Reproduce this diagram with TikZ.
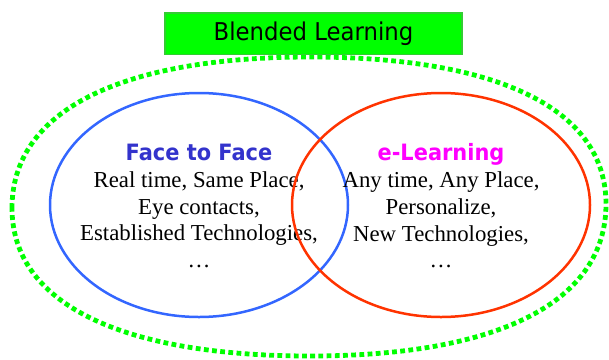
\documentclass[tikz,border=0pt]{standalone}
\usepackage{fontspec}
\setmainfont{Liberation Serif}
\newfontfamily\tahoma[FakeStretch=0.93]{DejaVu Sans}

\definecolor{dotgreen}{RGB}{0,255,0}
\definecolor{boxgreen}{RGB}{0,255,0}
\definecolor{boxedge}{RGB}{51,204,51}
\definecolor{ringblue}{RGB}{51,102,255}
\definecolor{ringred}{RGB}{255,51,0}
\definecolor{ftfblue}{RGB}{51,51,204}
\definecolor{elmagenta}{RGB}{255,0,255}

\tikzset{
  outline/.style={draw=dotgreen, line width=4.8pt, dash pattern=on 4.8pt off 3.4pt},
  titlebox/.style={draw=boxedge, fill=boxgreen, line width=1.5pt,
    minimum width=297pt, minimum height=41.5pt, inner sep=0pt,
    font=\tahoma\fontsize{24.5}{24.5}\selectfont},
  ring/.style={line width=2.5pt},
  body/.style={align=center, inner sep=0pt, font=\fontsize{22.8}{26.8}\selectfont},
  head/.style={font=\tahoma\bfseries\fontsize{22.5}{26.8}\selectfont}
}

\begin{document}
\begin{tikzpicture}[x=1pt,y=-1pt]
  \useasboundingbox (0,0) rectangle (609,359);

  % dotted outline round both rings
  \coordinate (L) at (12,208);
  \coordinate (T) at (310,57);
  \coordinate (R) at (606,204);
  \coordinate (B) at (310,356);
  \draw[outline] (L) .. controls (12,111.4) and (119.3,57) .. (T)
    .. controls (500.1,57) and (606,109.9) .. (R)
    .. controls (606,301.3) and (500.1,356) .. (B)
    .. controls (119.3,356) and (12,302.7) .. (L) -- cycle;

  \node[titlebox] (blended) at (313.5,33.5) {Blended Learning};

  % face to face
  \draw[ring, ringblue] (199,205) ellipse (149 and 112);
  \node[body] (f2f) at (199,206)
    {{\color{ftfblue}\tahoma\bfseries\fontsize{22.5}{26.8}\selectfont Face to Face}\\
     Real time, Same Place,\\ Eye contacts,\\ Established Technologies,\\ …};

  % e-learning
  \draw[ring, ringred] (441,205) ellipse (149 and 112);
  \node[body] (elearn) at (441,206)
    {{\color{elmagenta}\tahoma\bfseries\fontsize{22.5}{26.8}\selectfont e-Learning}\\
     Any time, Any Place,\\ Personalize,\\ New Technologies,\\ …};
\end{tikzpicture}
\end{document}
